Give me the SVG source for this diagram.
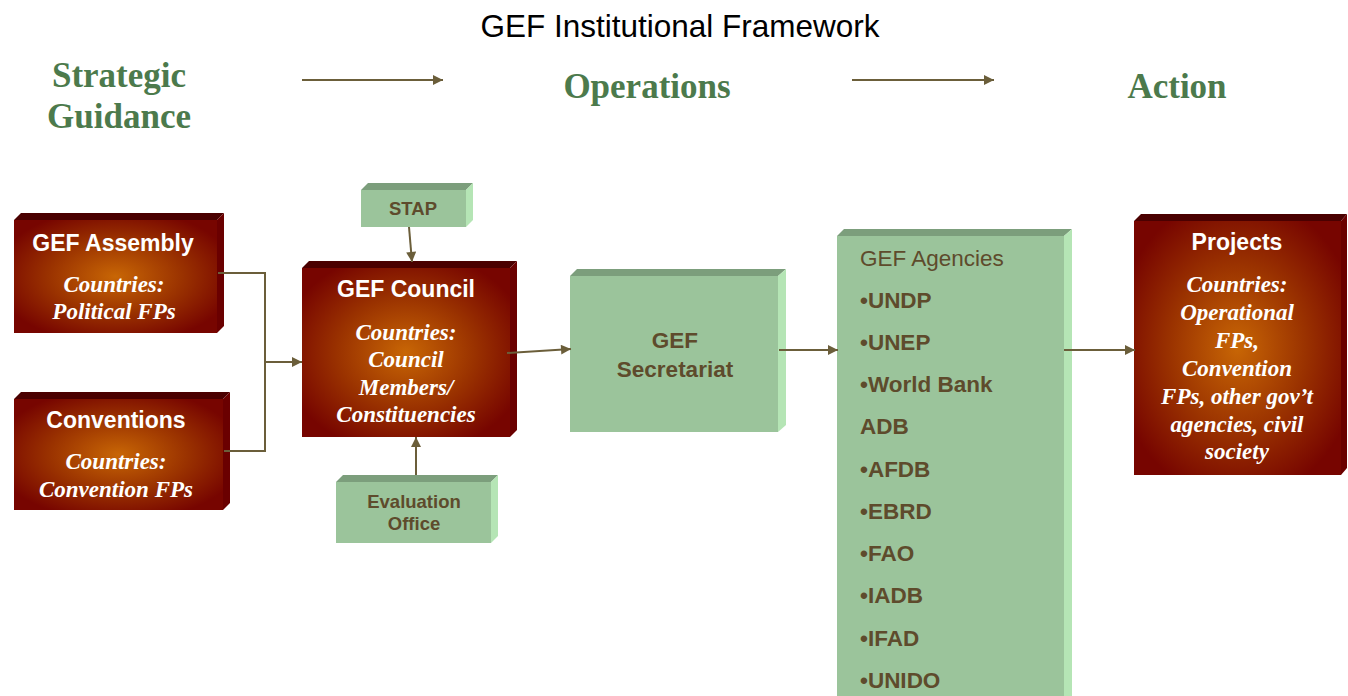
<svg xmlns="http://www.w3.org/2000/svg" width="1348" height="696" viewBox="0 0 1348 696">
<defs>
<radialGradient id="redg" cx="50%" cy="50%" r="60%">
<stop offset="0" stop-color="#C86605"/>
<stop offset="0.55" stop-color="#9A3200"/>
<stop offset="1" stop-color="#770500"/>
</radialGradient>
<marker id="arr" viewBox="0 0 10 10" refX="10" refY="5" markerWidth="5.5" markerHeight="5" markerUnits="strokeWidth" orient="auto">
<path d="M0,0 L10,5 L0,10 z" fill="#6B5E3A"/>
</marker>
<style>
.rf{fill:url(#redg)}
.rt{fill:#4A0000}
.rs{fill:#6A0000}
.gf{fill:#9BC49B}
.gt{fill:#7C9E7C}
.gs{fill:#B5E5B5}
.rh{font-family:"Liberation Sans",Arial,sans-serif;font-weight:bold;font-size:23px;fill:#FFFFFF;text-anchor:middle}
.ri{font-family:"Liberation Serif","Times New Roman",serif;font-weight:bold;font-style:italic;font-size:23px;fill:#FFFFFF;text-anchor:middle}
.gl{font-family:"Liberation Sans",Arial,sans-serif;font-weight:bold;fill:#5E4B2C;text-anchor:middle}
.ag{font-family:"Liberation Sans",Arial,sans-serif;font-weight:bold;font-size:22.5px;fill:#5E4B2C}
.hd{font-family:"Liberation Serif","Times New Roman",serif;font-weight:bold;font-size:35px;fill:#4C7A4C;text-anchor:middle}
.cn{stroke:#6B5E3A;stroke-width:2;fill:none}
</style>
</defs>
<rect width="1348" height="696" fill="#FFFFFF"/>

<g id="title">
<text x="680" y="37" font-family="Liberation Sans, Arial, sans-serif" font-size="31.5" fill="#000000" text-anchor="middle">GEF Institutional Framework</text>
</g>
<g id="headings">
<text class="hd" x="119" y="87">Strategic</text>
<text class="hd" x="119" y="128">Guidance</text>
<text class="hd" x="647" y="98">Operations</text>
<text class="hd" x="1177" y="98">Action</text>
</g>

<g id="assembly">
<polygon class="rt" points="14,220 21,213 224,213 217,220"/>
<polygon class="rs" points="217,220 224,213 224,326 217,333"/>
<rect class="rf" x="14" y="220" width="203" height="113"/>
<text class="rh" x="113" y="251">GEF Assembly</text>
<text class="ri" x="114" y="292">Countries:</text>
<text class="ri" x="114" y="319">Political FPs</text>
</g>

<g id="conventions">
<polygon class="rt" points="14,399 21,392 230,392 223,399"/>
<polygon class="rs" points="223,399 230,392 230,503 223,510"/>
<rect class="rf" x="14" y="399" width="209" height="111"/>
<text class="rh" x="116" y="428">Conventions</text>
<text class="ri" x="116" y="469">Countries:</text>
<text class="ri" x="116" y="497">Convention FPs</text>
</g>

<g id="stap">
<polygon class="gt" points="361,190 368,183 473,183 466,190"/>
<polygon class="gs" points="466,190 473,183 473,220 466,227"/>
<rect class="gf" x="361" y="190" width="105" height="37"/>
<text class="gl" x="413" y="215" font-size="18.5">STAP</text>
</g>

<g id="council">
<polygon class="rt" points="302,268 309,261 517,261 510,268"/>
<polygon class="rs" points="510,268 517,261 517,430 510,437"/>
<rect class="rf" x="302" y="268" width="208" height="169"/>
<text class="rh" x="406" y="297">GEF Council</text>
<text class="ri" x="406" y="340">Countries:</text>
<text class="ri" x="406" y="367">Council</text>
<text class="ri" x="406" y="395">Members/</text>
<text class="ri" x="406" y="422">Constituencies</text>
</g>

<g id="evaluation">
<polygon class="gt" points="336,482 343,475 498,475 491,482"/>
<polygon class="gs" points="491,482 498,475 498,536 491,543"/>
<rect class="gf" x="336" y="482" width="155" height="61"/>
<text class="gl" x="414" y="508" font-size="18.5">Evaluation</text>
<text class="gl" x="414" y="530" font-size="18.5">Office</text>
</g>

<g id="secretariat">
<polygon class="gt" points="570,276 577,269 786,269 778,276"/>
<polygon class="gs" points="778,276 786,269 786,425 778,432"/>
<rect class="gf" x="570" y="276" width="208" height="156"/>
<text class="gl" x="675" y="348" font-size="22.5">GEF</text>
<text class="gl" x="675" y="377" font-size="22.5">Secretariat</text>
</g>

<g id="agencies">
<polygon class="gt" points="837,236 844,229 1072,229 1064,236"/>
<polygon class="gs" points="1064,236 1072,229 1072,696 1064,696"/>
<rect class="gf" x="837" y="236" width="227" height="460"/>
<text x="860" y="266" font-family="Liberation Sans, Arial, sans-serif" font-size="22.5" fill="#5E4B2C">GEF Agencies</text>
<text class="ag" x="860" y="308">•UNDP</text>
<text class="ag" x="860" y="350">•UNEP</text>
<text class="ag" x="860" y="392">•World Bank</text>
<text class="ag" x="860" y="434">ADB</text>
<text class="ag" x="860" y="477">•AFDB</text>
<text class="ag" x="860" y="519">•EBRD</text>
<text class="ag" x="860" y="561">•FAO</text>
<text class="ag" x="860" y="603">•IADB</text>
<text class="ag" x="860" y="646">•IFAD</text>
<text class="ag" x="860" y="688">•UNIDO</text>
</g>

<g id="projects">
<polygon class="rt" points="1134,221 1141,214 1347,214 1341,221"/>
<polygon class="rs" points="1341,221 1347,214 1347,468 1341,475"/>
<rect class="rf" x="1134" y="221" width="207" height="254"/>
<text class="rh" x="1237" y="250">Projects</text>
<text class="ri" x="1237" y="292">Countries:</text>
<text class="ri" x="1237" y="320">Operational</text>
<text class="ri" x="1237" y="348">FPs,</text>
<text class="ri" x="1237" y="376">Convention</text>
<text class="ri" x="1237" y="404">FPs, other gov’t</text>
<text class="ri" x="1237" y="432">agencies, civil</text>
<text class="ri" x="1237" y="459">society</text>
</g>

<g id="connectors">
<line class="cn" x1="302" y1="80" x2="443" y2="80" marker-end="url(#arr)"/>
<line class="cn" x1="852" y1="80" x2="994" y2="80" marker-end="url(#arr)"/>
<polyline class="cn" points="218,273 265,273 265,451 224,451"/>
<line class="cn" x1="265" y1="362" x2="302" y2="362" marker-end="url(#arr)"/>
<line class="cn" x1="409" y1="227" x2="412" y2="262" marker-end="url(#arr)"/>
<line class="cn" x1="416" y1="475" x2="416" y2="437" marker-end="url(#arr)"/>
<line class="cn" x1="507" y1="353" x2="571" y2="349" marker-end="url(#arr)"/>
<line class="cn" x1="779" y1="350" x2="838" y2="350" marker-end="url(#arr)"/>
<line class="cn" x1="1064" y1="350" x2="1135" y2="350" marker-end="url(#arr)"/>
</g>
</svg>
